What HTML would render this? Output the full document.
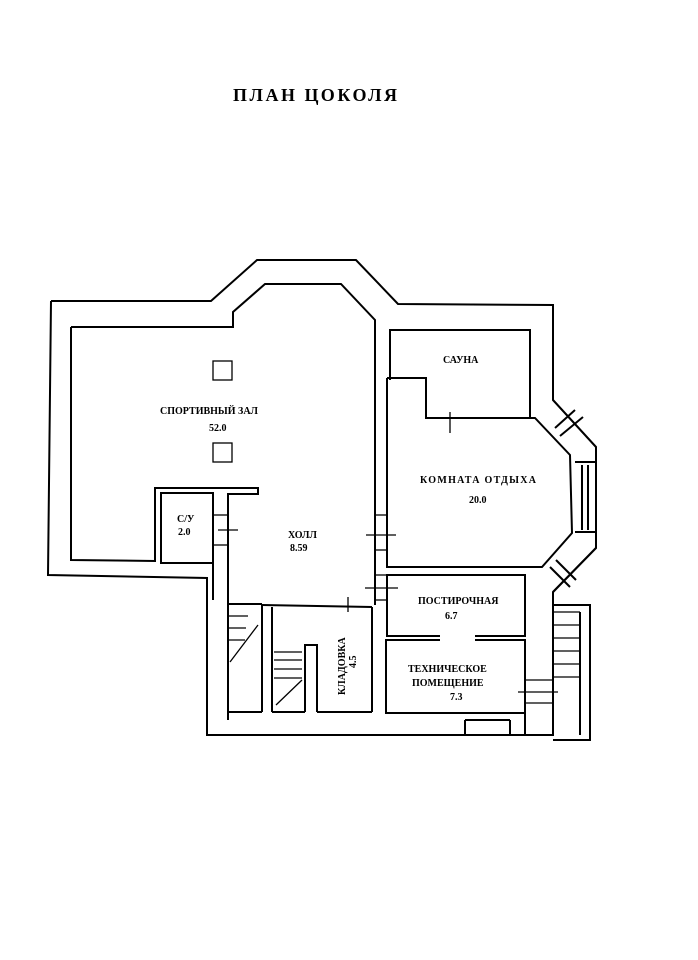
<!DOCTYPE html>
<html><head><meta charset="utf-8"><style>
html,body{margin:0;padding:0;background:#fff;}
svg{display:block}
text{font-family:"Liberation Serif","DejaVu Serif",serif;font-weight:bold;fill:#000}
</style></head><body>
<svg width="698" height="960" viewBox="0 0 698 960" xmlns="http://www.w3.org/2000/svg">
<rect width="698" height="960" fill="#fff"/>
<text x="233" y="101" font-size="18" textLength="164" lengthAdjust="spacing">ПЛАН   ЦОКОЛЯ</text>
<g fill="none" stroke="#000" stroke-width="2">
<polyline points="51,301 211,301 257,260 356,260 398,304 553,305 553,400 596,447 596,548 553,592 553,735 207,735 207,578 48,575 51,301"/>
<polyline points="71,327 233,327 233,312 265,284 341,284 375,320 375,605"/>
<polyline points="71,327 71,560 155,561 155,488 258,488 258,494 228,494 228,720"/>
<rect x="161" y="493" width="52" height="70"/>
<line x1="213" y1="493" x2="213" y2="600"/>
<polyline points="390,380 390,330 530,330 530,418"/>
<polyline points="387,378 426,378 426,418 535,418 570,455 572,533 542,567 387,567 387,378"/>
<polyline points="553,400 596,447 596,548 553,592"/>
<line x1="575" y1="462" x2="596" y2="462"/><line x1="575" y1="532" x2="596" y2="532"/>
<line x1="582" y1="465" x2="582" y2="530"/><line x1="588" y1="465" x2="588" y2="530"/>
<line x1="555" y1="428" x2="575" y2="410"/><line x1="560" y1="436" x2="583" y2="417"/>
<line x1="556" y1="560" x2="576" y2="580"/><line x1="550" y1="567" x2="570" y2="587"/>
<polyline points="440,636 387,636 387,575 525,575 525,636 475,636"/>
<polyline points="440,640 386,640 386,713 525,713 525,640 475,640"/>
<line x1="262" y1="605" x2="372" y2="607"/>
<polyline points="262,605 262,712"/>
<polyline points="272,607 272,712"/>
<polyline points="372,607 372,712"/>
<polyline points="305,712 305,645 317,645 317,712"/>
<line x1="272" y1="712" x2="305" y2="712"/>
<line x1="317" y1="712" x2="372" y2="712"/>
<line x1="228" y1="604" x2="262" y2="604"/>
<line x1="228" y1="712" x2="262" y2="712"/>
<polyline points="553,605 590,605 590,740 553,740"/>
<line x1="580" y1="612" x2="580" y2="735"/>
<line x1="525" y1="713" x2="525" y2="735"/>
<line x1="465" y1="720" x2="510" y2="720"/>
<line x1="465" y1="735" x2="465" y2="720"/>
<line x1="510" y1="720" x2="510" y2="735"/>
</g>
<g fill="none" stroke="#000" stroke-width="1.3">
<rect x="213" y="361" width="19" height="19"/>
<rect x="213" y="443" width="19" height="19"/>
<line x1="213" y1="515" x2="228" y2="515"/><line x1="213" y1="545" x2="228" y2="545"/><line x1="218" y1="530" x2="238" y2="530"/>
<line x1="375" y1="515" x2="387" y2="515"/><line x1="375" y1="550" x2="387" y2="550"/><line x1="366" y1="535" x2="396" y2="535"/>
<line x1="450" y1="412" x2="450" y2="433"/>
<line x1="365" y1="588" x2="398" y2="588"/><line x1="375" y1="575" x2="387" y2="575"/><line x1="375" y1="600" x2="387" y2="600"/>
<line x1="348" y1="597" x2="348" y2="612"/>
<line x1="518" y1="692" x2="558" y2="692"/><line x1="525" y1="680" x2="553" y2="680"/><line x1="525" y1="703" x2="553" y2="703"/>
<line x1="553" y1="612" x2="580" y2="612"/><line x1="553" y1="625" x2="580" y2="625"/><line x1="553" y1="638" x2="580" y2="638"/>
<line x1="553" y1="651" x2="580" y2="651"/><line x1="553" y1="664" x2="580" y2="664"/><line x1="553" y1="677" x2="580" y2="677"/>
<line x1="228" y1="616" x2="248" y2="616"/><line x1="228" y1="628" x2="246" y2="628"/><line x1="228" y1="640" x2="245" y2="640"/>
<line x1="230" y1="662" x2="258" y2="625"/>
<line x1="274" y1="652" x2="302" y2="652"/><line x1="274" y1="660" x2="302" y2="660"/><line x1="274" y1="669" x2="302" y2="669"/>
<line x1="274" y1="678" x2="302" y2="678"/><line x1="276" y1="705" x2="302" y2="680"/>
</g>
<g font-size="10">
<text x="160" y="414" textLength="98">СПОРТИВНЫЙ  ЗАЛ</text>
<text x="209" y="431">52.0</text>
<text x="177" y="522">С/У</text>
<text x="178" y="535">2.0</text>
<text x="288" y="538">ХОЛЛ</text>
<text x="290" y="551">8.59</text>
<text x="443" y="363">САУНА</text>
<text x="420" y="483" textLength="116">КОМНАТА  ОТДЫХА</text>
<text x="469" y="503">20.0</text>
<text x="418" y="604">ПОСТИРОЧНАЯ</text>
<text x="445" y="619">6.7</text>
<text x="408" y="672">ТЕХНИЧЕСКОЕ</text>
<text x="412" y="686">ПОМЕЩЕНИЕ</text>
<text x="450" y="700">7.3</text>
<text transform="translate(345,695) rotate(-90)">КЛАДОВКА</text>
<text transform="translate(356,668) rotate(-90)">4.5</text>
</g>
</svg>
</body></html>
